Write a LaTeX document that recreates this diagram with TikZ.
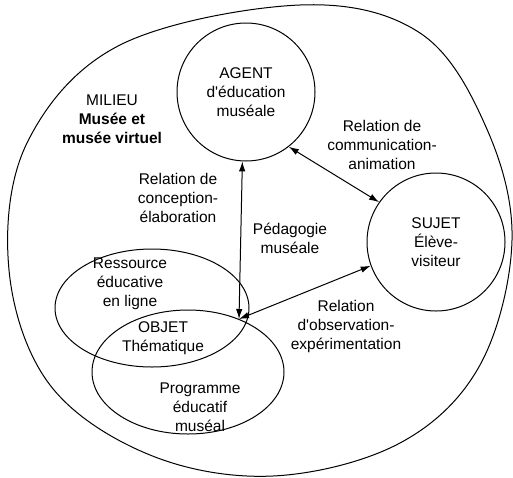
\documentclass[tikz,border=0pt]{standalone}
\usepackage{fontspec}
\setmainfont{Liberation Sans}
\usetikzlibrary{arrows.meta}

\begin{document}
\begin{tikzpicture}[x=1pt, y=-1pt, font=\fontsize{15.5}{19}\selectfont,
	>={Latex[length=10pt,width=6.5pt]}, line width=1pt,
	pole/.style={draw, circle, minimum size=138pt, inner sep=0pt, align=center},
	lbl/.style={align=center, inner sep=0pt}]

	\useasboundingbox (0,0) rectangle (513,477);

	%% milieu (outer boundary)
	\draw plot[smooth cycle, tension=0.6] coordinates {
		(300,5) (420,33) (486,127) (512,240) (480,365) (400,443)
		(273,476) (150,455) (50,385) (9,270) (27,143) (120,45)};

	%% poles
	\node[pole] (agent) at (246,92) {AGENT\\d\textquotesingle éducation\\muséale};
	\node[pole] (sujet) at (436,242) {SUJET\\Élève-\\visiteur};

	%% objet : two overlapping ellipses
	\draw (152,308) ellipse [x radius=97pt, y radius=59pt];
	\draw (188,372) ellipse [x radius=96pt, y radius=62pt];
	\coordinate (objet) at (239,319);

	%% labels
	\node[lbl] (milieu) at (112,119) {MILIEU\\\textbf{Musée et}\\\textbf{musée virtuel}};
	\node[lbl] (communication) at (382,145) {Relation de\\communication-\\animation};
	\node[lbl] (conception) at (178,198) {Relation de\\conception-\\élaboration};
	\node[lbl] (pedagogie) at (290,238) {Pédagogie\\muséale};
	\node[lbl] (ressource) at (130,284) {Ressource\\éducative\\en ligne};
	\node[lbl] (objtxt) at (163,338) {OBJET\\Thématique};
	\node[lbl] (programme) at (200,407) {Programme\\éducatif\\muséal};
	\node[lbl] (observation) at (346,326) {Relation\\d\textquotesingle observation-\\expérimentation};

	%% relations
	\draw[<->] (agent.-52) -- (sujet.145);
	\draw[<->] (agent.-93) -- (objet);
	\draw[<->] (objet) -- (sujet.200);

\end{tikzpicture}
\end{document}
